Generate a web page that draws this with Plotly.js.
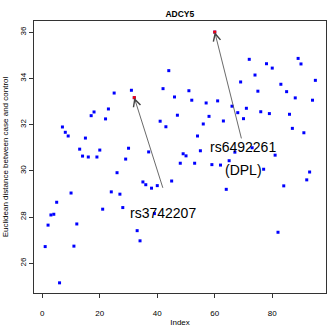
<!DOCTYPE html>
<html>
<head>
<meta charset="utf-8">
<script src="https://cdn.plot.ly/plotly-3.0.1.min.js"></script>
<style>
  html, body { margin: 0; padding: 0; background: #fff; }
  #chart { width: 327px; height: 327px; }
</style>
</head>
<body>
<div id="chart"></div>
<script>
// Euclidean distance between case and control, one value per SNP index
const distance = [
  26.72, 27.65, 28.09, 28.12, 28.64, 25.15, 31.90, 31.67, 31.51, 29.04,
  26.74, 27.70, 30.94, 30.64, 31.42, 30.60, 32.39, 32.55, 30.60, 30.90,
  28.34, 32.25, 32.68, 29.09, 33.37, 29.92, 28.99, 28.41, 30.51, 30.98,
  33.49, 33.17, 27.41, 26.97, 29.52, 29.40, 30.82, 29.25, 28.15, 29.36,
  32.15, 33.56, 31.91, 34.34, 29.56, 33.20, 32.41, 30.33, 30.74, 30.65,
  33.47, 33.06, 30.33, 31.51, 30.87, 32.03, 32.94, 32.36, 30.27, 36.01,
  33.03, 30.25, 32.16, 29.20, 30.44, 32.80, 30.81, 32.52, 33.85, 32.26,
  32.71, 34.83, 31.00, 34.15, 33.45, 32.56, 30.07, 34.64, 32.48, 34.45,
  30.68, 27.34, 33.75, 29.35, 33.43, 32.45, 31.84, 33.16, 34.87, 34.63,
  31.65, 29.61, 29.95, 33.06, 33.92
];
const index = distance.map((d, i) => i + 1);

// highlighted SNPs
const hitIndex = [32, 60];
const hitLabel = ['rs3742207', 'rs6492261'];
const hitNote = ['', '(DPL)'];
// where each label sits (data units), and where its arrow starts
const labelPos = [[42.0, 28.16], [69.8, 31.05]];
const notePos = [null, [69.9, 30.04]];
const arrowTail = [[42.1, 29.2], [69.4, 31.34]];

const font = 'Liberation Sans, Arial, sans-serif';

const traces = [
  {
    x: index,
    y: distance,
    type: 'scatter',
    mode: 'markers',
    marker: { color: '#0000ff', size: 3, symbol: 'square' },
    hoverinfo: 'x+y'
  },
  {
    x: hitIndex,
    y: hitIndex.map(i => distance[i - 1]),
    type: 'scatter',
    mode: 'markers',
    marker: { color: '#ff0000', size: 3, symbol: 'square' },
    hoverinfo: 'x+y'
  }
];

const annotations = [];
hitIndex.forEach((idx, k) => {
  annotations.push({
    x: idx, y: distance[idx - 1], xref: 'x', yref: 'y',
    ax: arrowTail[k][0], ay: arrowTail[k][1], axref: 'x', ayref: 'y',
    text: '', showarrow: true,
    arrowhead: 5, arrowsize: 1.8, arrowwidth: 0.8, arrowcolor: '#444',
    standoff: 0
  });
  annotations.push({
    x: labelPos[k][0], y: labelPos[k][1], xref: 'x', yref: 'y',
    text: hitLabel[k], showarrow: false,
    font: { family: font, size: 14, color: '#000' }
  });
  if (hitNote[k]) {
    annotations.push({
      x: notePos[k][0], y: notePos[k][1], xref: 'x', yref: 'y',
      text: hitNote[k], showarrow: false,
      font: { family: font, size: 14, color: '#000' }
    });
  }
});

const layout = {
  width: 327,
  height: 327,
  margin: { l: 34, r: 1, t: 21, b: 34 },
  paper_bgcolor: '#fff',
  plot_bgcolor: '#fff',
  showlegend: false,
  font: { family: font, size: 8, color: '#000' },
  title: {
    text: '<b>ADCY5</b>',
    font: { family: font, size: 8.5, color: '#000' },
    x: 0.55, xanchor: 'center', y: 0.958, yanchor: 'middle'
  },
  xaxis: {
    range: [-2.89, 98.7],
    dtick: 20, tick0: 0,
    showgrid: false, zeroline: false,
    showline: true, mirror: true, linecolor: '#333', linewidth: 1,
    ticks: 'outside', ticklen: 4, tickcolor: '#333',
    ticklabelstandoff: 8,
    tickfont: { size: 8 },
    title: { text: 'Index', font: { size: 8 }, standoff: 8 }
  },
  yaxis: {
    range: [24.71, 36.49],
    dtick: 2, tick0: 0,
    showgrid: false, zeroline: false,
    showline: true, mirror: true, linecolor: '#333', linewidth: 1,
    ticks: 'outside', ticklen: 4, tickcolor: '#333',
    tickangle: -90,
    tickfont: { size: 8 },
    title: { text: 'Euclidean distance between case and control', font: { size: 8 } }
  },
  annotations: annotations
};

Plotly.newPlot('chart', traces, layout, { displayModeBar: false, staticPlot: true });
</script>
</body>
</html>
